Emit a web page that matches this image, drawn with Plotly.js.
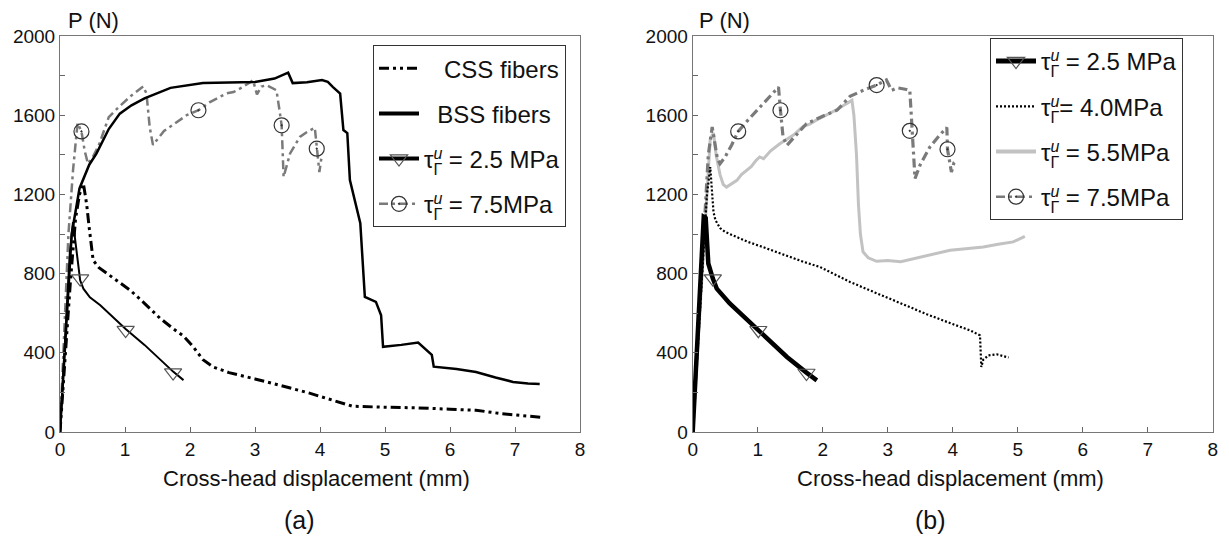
<!DOCTYPE html>
<html><head><meta charset="utf-8">
<script src="https://cdn.plot.ly/plotly-3.0.1.min.js"></script>
<style>html,body{margin:0;padding:0;background:#fff}#chart{width:1229px;height:541px}</style>
</head><body><div id="chart"></div>
<script>
// ---------- panel (a) ----------
const X_CSS_A = [0, 0.08, 0.16, 0.24, 0.30, 0.36, 0.41, 0.45, 0.51, 0.60, 0.72, 0.90, 1.08, 1.30, 1.54, 1.75, 1.90, 2.05, 2.20, 2.36, 2.60, 3.00, 3.40, 3.80, 4.20, 4.50, 5.00, 5.50, 6.00, 6.40, 6.80, 7.10, 7.40];
const P_CSS_A = [0, 380, 760, 1080, 1200, 1255, 1150, 1030, 867, 830, 801, 760, 716, 650, 574, 520, 485, 430, 365, 328, 300, 268, 235, 200, 160, 130, 125, 122, 115, 110, 92, 82, 74];

const X_BSS_A = [0, 0.10, 0.18, 0.30, 0.45, 0.56, 0.75, 0.92, 1.10, 1.30, 1.70, 2.20, 3.00, 3.30, 3.51, 3.58, 3.80, 4.03, 4.12, 4.20, 4.31, 4.36, 4.42, 4.46, 4.62, 4.69, 4.86, 4.94, 4.97, 5.25, 5.51, 5.72, 5.75, 6.10, 6.40, 6.70, 6.97, 7.20, 7.38];
const P_BSS_A = [0, 560, 1000, 1230, 1350, 1406, 1530, 1608, 1650, 1685, 1738, 1763, 1768, 1785, 1815, 1762, 1766, 1778, 1768, 1742, 1709, 1525, 1510, 1272, 1055, 682, 657, 590, 430, 440, 452, 390, 330, 318, 303, 275, 253, 245, 242];

const X_T25_A = [0, 0.08, 0.15, 0.20, 0.23, 0.27, 0.31, 0.36, 0.46, 0.62, 0.92, 1.01, 1.30, 1.54, 1.74, 1.90];
const P_T25_A = [0, 450, 900, 1060, 980, 850, 766, 724, 680, 640, 548, 520, 440, 365, 305, 262];
const X_TRI_A = [0.31, 1.01, 1.74];
const P_TRI_A = [775, 515, 300];

const X_T75_A = [0, 0.06, 0.13, 0.20, 0.27, 0.33, 0.38, 0.43, 0.50, 0.60, 0.75, 0.90, 1.10, 1.28, 1.33, 1.38, 1.43, 1.60, 1.80, 1.95, 2.13, 2.30, 2.56, 2.67, 2.80, 2.97, 3.03, 3.10, 3.18, 3.33, 3.37, 3.41, 3.44, 3.54, 3.69, 3.80, 3.92, 3.95, 3.99, 4.02];
const P_T75_A = [0, 480, 1000, 1320, 1560, 1518, 1420, 1355, 1385, 1450, 1590, 1640, 1700, 1745, 1710, 1540, 1450, 1520, 1565, 1600, 1625, 1665, 1710, 1717, 1740, 1776, 1705, 1745, 1751, 1726, 1640, 1549, 1288, 1407, 1490, 1515, 1537, 1431, 1313, 1380];
const X_CIR_A = [0.33, 2.13, 3.41, 3.95];
const P_CIR_A = [1518, 1625, 1549, 1431];

// ---------- panel (b) ----------
const X_T25_B = [0, 0.06, 0.12, 0.17, 0.20, 0.22, 0.24, 0.31, 0.37, 0.57, 0.80, 1.01, 1.25, 1.45, 1.75, 1.91];
const P_T25_B = [0, 400, 800, 1086, 1080, 950, 851, 775, 724, 649, 580, 514, 440, 379, 300, 261];
const X_TRI_B = [0.31, 1.01, 1.75];
const P_TRI_B = [775, 514, 298];

const X_T40_B = [0, 0.08, 0.16, 0.22, 0.27, 0.29, 0.32, 0.35, 0.42, 0.50, 0.62, 0.85, 1.08, 1.40, 1.70, 1.96, 2.20, 2.42, 2.80, 3.20, 3.60, 4.00, 4.27, 4.42, 4.44, 4.47, 4.55, 4.68, 4.86];
const P_T40_B = [0, 420, 850, 1200, 1338, 1220, 1110, 1070, 1030, 1010, 994, 960, 934, 895, 860, 833, 795, 758, 705, 650, 595, 545, 513, 488, 328, 365, 387, 392, 376];

const X_T55_B = [0, 0.10, 0.20, 0.27, 0.32, 0.36, 0.42, 0.47, 0.52, 0.60, 0.68, 0.75, 0.83, 0.90, 0.97, 1.03, 1.09, 1.20, 1.34, 1.45, 1.55, 1.70, 1.80, 1.90, 2.06, 2.20, 2.30, 2.45, 2.48, 2.52, 2.55, 2.58, 2.62, 2.70, 2.83, 3.00, 3.20, 3.34, 3.50, 3.70, 3.96, 4.20, 4.47, 4.70, 4.93, 5.11];
const P_T55_B = [0, 560, 1120, 1480, 1510, 1400, 1300, 1250, 1237, 1255, 1271, 1300, 1321, 1340, 1370, 1389, 1380, 1420, 1456, 1480, 1500, 1544, 1555, 1575, 1600, 1625, 1645, 1675, 1600, 1400, 1150, 1000, 910, 880, 862, 866, 860, 871, 885, 900, 918, 925, 934, 948, 960, 988];

const X_T75_B = [0, 0.08, 0.16, 0.24, 0.30, 0.34, 0.38, 0.42, 0.50, 0.60, 0.70, 0.85, 1.04, 1.20, 1.32, 1.35, 1.39, 1.45, 1.60, 1.75, 2.00, 2.22, 2.42, 2.65, 2.83, 2.98, 3.06, 3.15, 3.29, 3.34, 3.37, 3.42, 3.50, 3.65, 3.80, 3.91, 3.92, 3.98, 4.02, 4.06];
const P_T75_B = [0, 450, 950, 1400, 1540, 1450, 1380, 1355, 1390, 1450, 1518, 1575, 1641, 1700, 1742, 1625, 1490, 1448, 1500, 1557, 1595, 1625, 1695, 1730, 1752, 1778, 1726, 1738, 1730, 1726, 1560, 1280, 1350, 1440, 1500, 1538, 1428, 1313, 1360, 1372];
const X_CIR_B = [0.70, 1.35, 2.83, 3.34, 3.92];
const P_CIR_B = [1518, 1625, 1752, 1521, 1428];

// ---------- labels ----------
const TAU = "τ<span style='font-size:16px;baseline-shift:9px;letter-spacing:-9px;font-style:italic'>u</span><span style='font-size:16px;baseline-shift:-7px'>Γ</span>";
const LEG_A = ['\u00a0\u00a0\u00a0CSS fibers', '\u00a0\u00a0BSS fibers', TAU + ' = 2.5 MPa', TAU + ' = 7.5MPa'];
const LEG_B = [TAU + ' = 2.5 MPa', TAU + '= 4.0MPa', TAU + ' = 5.5MPa', TAU + ' = 7.5MPa'];
const X_TICKS = [0, 1, 2, 3, 4, 5, 6, 7, 8];

// ---------- styles ----------
const S_CSS = {color: '#000', width: 3, dash: '10px,4px,3px,4px,3px,4px'};
const S_BSS = {color: '#000', width: 2.5};
const S_25A = {color: '#000', width: 2};
const S_75 = {color: '#7a7a7a', width: 2.5, dash: '9px,4px,3px,4px'};
const S_25B = {color: '#000', width: 4.5};
const S_40 = {color: '#000', width: 2.2, dash: '2px,2px'};
const S_55 = {color: '#c2c2c2', width: 3};
const TRI = {symbol: 'triangle-down-open', size: 15, color: '#555', line: {width: 1.2}};
const CIR = {symbol: 'circle-open-dot', size: 15, color: '#333', line: {width: 1.2}};

function line(x, y, st, ax) {
  return {x: x, y: y, mode: 'lines', line: st, showlegend: false, hoverinfo: 'skip',
          xaxis: ax[0], yaxis: ax[1]};
}
function marks(x, y, mk, ax) {
  return {x: x, y: y, mode: 'markers', marker: mk, showlegend: false, hoverinfo: 'skip',
          xaxis: ax[0], yaxis: ax[1], cliponaxis: false};
}
function leg(name, st, mk, ax, lg, grp) {
  const t = {x: [null], y: [null], name: name, mode: mk ? 'lines+markers' : 'lines', line: st,
             legend: lg, legendgroup: grp, xaxis: ax[0], yaxis: ax[1], hoverinfo: 'skip'};
  if (mk) t.marker = mk;
  return t;
}
const A = ['x', 'y'], B = ['x2', 'y2'];

const data = [
  line(X_T75_A, P_T75_A, S_75, A),
  line(X_BSS_A, P_BSS_A, S_BSS, A),
  line(X_CSS_A, P_CSS_A, S_CSS, A),
  line(X_T25_A, P_T25_A, S_25A, A),
  marks(X_TRI_A, P_TRI_A, TRI, A),
  marks(X_CIR_A, P_CIR_A, CIR, A),
  line(X_T55_B, P_T55_B, S_55, B),
  line(X_T75_B, P_T75_B, Object.assign({}, S_75, {width: 3.2}), B),
  line(X_T40_B, P_T40_B, S_40, B),
  line(X_T25_B, P_T25_B, S_25B, B),
  marks(X_TRI_B, P_TRI_B, TRI, B),
  marks(X_CIR_B, P_CIR_B, CIR, B),
  leg(LEG_A[0], S_CSS, null, A, 'legend', 'a1'),
  leg(LEG_A[1], {color: '#000', width: 4}, null, A, 'legend', 'a2'),
  leg(LEG_A[2], {color: '#000', width: 4}, TRI, A, 'legend', 'a3'),
  leg(LEG_A[3], S_75, CIR, A, 'legend', 'a4'),
  leg(LEG_B[0], {color: '#000', width: 5}, TRI, B, 'legend2', 'b1'),
  leg(LEG_B[1], S_40, null, B, 'legend2', 'b2'),
  leg(LEG_B[2], {color: '#c2c2c2', width: 4}, null, B, 'legend2', 'b3'),
  leg(LEG_B[3], S_75, CIR, B, 'legend2', 'b4')
];

const FONT = 'Liberation Sans, Arial, sans-serif';
function xax(dom, anchor) {
  return {domain: dom, anchor: anchor, range: [0, 8], tickvals: X_TICKS, ticktext: X_TICKS.map(String),
          ticks: 'inside', ticklen: 5, tickcolor: '#666', showline: true, mirror: true,
          linecolor: '#777', linewidth: 1, showgrid: false, zeroline: false,
          tickfont: {size: 19, color: '#111', family: FONT}, fixedrange: true};
}
function yax(anchor) {
  return {domain: [0, 1], anchor: anchor, range: [0, 2000], dtick: 400, tick0: 0,
          ticks: 'inside', ticklen: 5, tickcolor: '#666', showline: true, mirror: true,
          linecolor: '#777', linewidth: 1, showgrid: false, zeroline: false,
          minor: {dtick: 200, ticks: 'inside', ticklen: 5, tickcolor: '#666', showgrid: false},
          tickfont: {size: 19, color: '#111', family: FONT}, fixedrange: true};
}
function legBox(x, y) {
  return {x: x, y: y, xanchor: 'left', yanchor: 'top', bgcolor: '#fff', bordercolor: '#333',
          borderwidth: 1, font: {size: 24, color: '#111', family: FONT}, tracegroupgap: 11,
          traceorder: 'grouped', itemwidth: 40};
}
const W = 1229;
function ann(text, px, yp, size, xanchor) {
  return {text: text, x: px / W, y: yp, xref: 'paper', yref: 'paper', showarrow: false,
          xanchor: xanchor || 'center', yanchor: 'middle', font: {size: size, color: '#111', family: FONT}};
}

const layout = {
  width: 1229, height: 541,
  margin: {l: 0, r: 0, t: 36, b: 109, pad: 0},
  paper_bgcolor: '#fff', plot_bgcolor: '#fff',
  font: {family: FONT, color: '#111'},
  xaxis: xax([60 / W, 580 / W], 'y'),
  yaxis: yax('x'),
  xaxis2: xax([692.7 / W, 1212.7 / W], 'y2'),
  yaxis2: yax('x2'),
  legend: legBox(373 / W, 0.977),
  legend2: legBox(990 / W, 0.995),
  annotations: [
    ann('P (N)', 66, 1.04, 22, 'left'),
    ann('P (N)', 697, 1.04, 22, 'left'),
    ann('Cross-head displacement (mm)', 316, -0.117, 22),
    ann('Cross-head displacement (mm)', 950, -0.117, 22),
    ann('(a)', 299, -0.222, 25),
    ann('(b)', 931, -0.222, 25)
  ]
};

Plotly.newPlot('chart', data, layout, {staticPlot: true, displayModeBar: false});
</script>
</body></html>
